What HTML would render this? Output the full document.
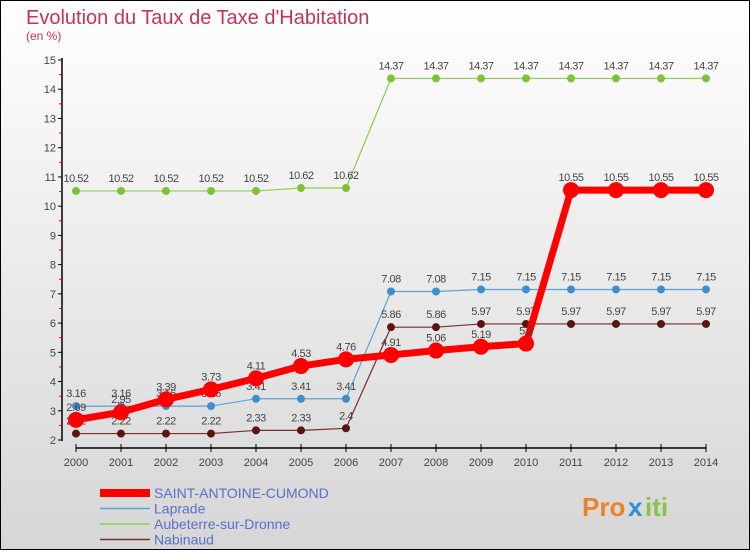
<!DOCTYPE html>
<html><head><meta charset="utf-8"><style>
html,body{margin:0;padding:0}
body{width:750px;height:550px;overflow:hidden;font-family:"Liberation Sans",sans-serif}
</style></head><body>
<svg id="c" width="750" height="550" xmlns="http://www.w3.org/2000/svg">
<defs><linearGradient id="bg" x1="0" y1="0" x2="0" y2="1"><stop offset="0" stop-color="#ffffff"/><stop offset="1" stop-color="#d6d6d6"/></linearGradient></defs>
<rect x="0.5" y="0.5" width="749" height="549" fill="url(#bg)" stroke="#000"/>
<text x="26" y="24" font-size="20" fill="#c8305e">Evolution du Taux de Taxe d'Habitation</text>
<text x="26" y="40" font-size="12" fill="#c8305e">(en %)</text>
<g id="axes"></g><g id="series"></g><g id="legend"></g>
<g font-size="26" font-weight="bold">
<text x="582" y="516" fill="#e8832a">Pro</text><text x="628" y="516" fill="#2a8fd8">x</text><text x="645" y="516" fill="#8bc34a">iti</text>
</g>
</svg>
<script>
const years=[2000,2001,2002,2003,2004,2005,2006,2007,2008,2009,2010,2011,2012,2013,2014];
const yTicks=[2,3,4,5,6,7,8,9,10,11,12,13,14,15];
const names=["SAINT-ANTOINE-CUMOND","Laprade","Aubeterre-sur-Dronne","Nabinaud"];
const sSaint=[2.69,2.95,3.39,3.73,4.11,4.53,4.76,4.91,5.06,5.19,5.3,10.55,10.55,10.55,10.55];
const sLaprade=[3.16,3.16,3.16,3.16,3.41,3.41,3.41,7.08,7.08,7.15,7.15,7.15,7.15,7.15,7.15];
const sAub=[10.52,10.52,10.52,10.52,10.52,10.62,10.62,14.37,14.37,14.37,14.37,14.37,14.37,14.37,14.37];
const sNab=[2.22,2.22,2.22,2.22,2.33,2.33,2.4,5.86,5.86,5.97,5.97,5.97,5.97,5.97,5.97];
const NS="http://www.w3.org/2000/svg";
const X=i=>76+i*45, Y=v=>440-(v-2)*29.23;
function mk(p,t,a){const e=document.createElementNS(NS,t);for(const k in a)e.setAttribute(k,a[k]);p.appendChild(e);return e;}
const ax=document.getElementById('axes');
let l=mk(ax,'line',{x1:62,y1:58,x2:62,y2:441,stroke:'#000','stroke-width':1.5});


l=mk(ax,'line',{x1:76,y1:448,x2:706,y2:448,stroke:'#000','stroke-width':1.5});


yTicks.forEach(v=>{
 mk(ax,'line',{x1:58,y1:Y(v),x2:62,y2:Y(v),stroke:'#000'});
 if(v<15)mk(ax,'line',{x1:59,y1:Y(v+0.5),x2:62,y2:Y(v+0.5),stroke:'#e00'});
 const t=mk(ax,'text',{x:56,y:Y(v)+4,'font-size':11,'text-anchor':'end',fill:'#444'});t.textContent=v;
 
 
});
years.forEach((y,i)=>{
 mk(ax,'line',{x1:X(i),y1:444,x2:X(i),y2:452,stroke:'#000'});
 const t=mk(ax,'text',{x:X(i),y:466,'font-size':11,'text-anchor':'middle',fill:'#444'});t.textContent=y;
 
 
});
const sg=document.getElementById('series');
const cfg=[[sAub,'#8ccf4a','#7ec23a',1.2,4],[sLaprade,'#5ba3d6','#3f8fcc',1.2,4],[sNab,'#7a2a2a','#5a1414',1.2,4],[sSaint,'#ff0000','#ff0000',7,8]];
const nameIdx=[2,1,3,0];
cfg.forEach((c,k)=>{
 const [d,lc,pc,w,r]=c;
 const g=mk(sg,'g',{});
 
 
 const p=mk(g,'polyline',{points:d.map((v,i)=>X(i)+','+Y(v)).join(' '),fill:'none',stroke:lc,'stroke-width':w,'stroke-linejoin':'round'});
 
 
 d.forEach((v,i)=>{
  const ci=mk(g,'circle',{cx:X(i),cy:Y(v),r:r,fill:pc});
  
  
  const t=mk(g,'text',{x:X(i),y:Y(v)-9,'font-size':11,'text-anchor':'middle',fill:'#444','letter-spacing':'-0.5'});t.textContent=v;
  
  
 });
});
const lg=document.getElementById('legend');
const lcol=['#ff0000','#5ba3d6','#8ccf4a','#7a2a2a'],lw=[8,1.5,1.5,1.5];
names.forEach((n,i)=>{
 const yy=493+i*15.5;
 const g=mk(lg,'g',{});
 
 
 mk(g,'line',{x1:100,y1:yy,x2:150,y2:yy,stroke:lcol[i],'stroke-width':lw[i]});
 const t=mk(g,'text',{x:154,y:yy+5,'font-size':14,fill:'#5a6fc8'});t.textContent=n;
});
</script>
</body></html>
